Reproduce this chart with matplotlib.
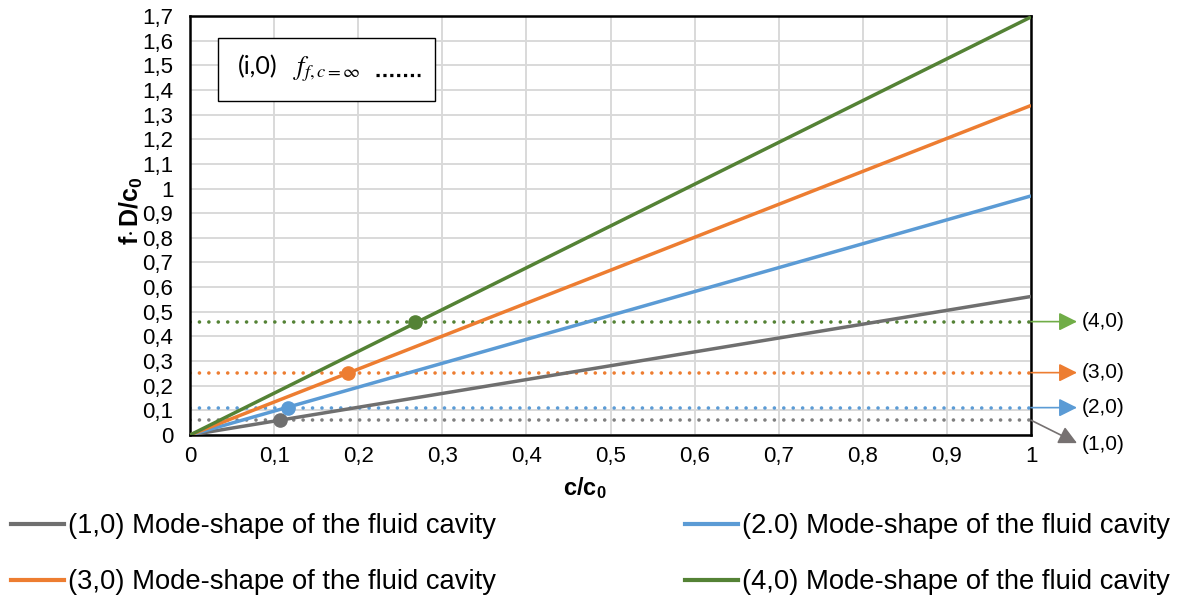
import matplotlib
matplotlib.use("Agg")
import matplotlib.pyplot as plt
from matplotlib.lines import Line2D
from matplotlib.patches import Rectangle
import numpy as np

plt.rcParams['font.family'] = ['Liberation Sans', 'DejaVu Sans']
plt.rcParams['mathtext.fontset'] = 'custom'
plt.rcParams['mathtext.rm'] = 'Liberation Sans'
plt.rcParams['mathtext.it'] = 'Liberation Sans:italic'
plt.rcParams['mathtext.bf'] = 'Liberation Sans:bold'

# Data
modes = ["(1,0)", "(2.0)", "(3,0)", "(4,0)"]
arrow_labels = ["(1,0)", "(2,0)", "(3,0)", "(4,0)"]
x_line = [0.0, 1.0]
y_end = [0.562, 0.970, 1.337, 1.696]          # f·D/c0 at c/c0 = 1
f_inf = [0.060, 0.111, 0.253, 0.460]          # (i,0) f_f,c=inf levels
x_cross = [0.107, 0.116, 0.188, 0.268]        # intersection points
colors = ["#6f6f6f", "#5b9bd5", "#ed7d31", "#548235"]
dot_colors = ["#7f7f7f", "#5b9bd5", "#ed7d31", "#548235"]
arrow_colors = ["#767171", "#5b9bd5", "#ed7d31", "#70ad47"]
xticks = np.round(np.arange(0, 1.01, 0.1), 1)
yticks = np.round(np.arange(0, 1.71, 0.1), 1)

fig = plt.figure(figsize=(11.84, 5.99), dpi=100)
ax = fig.add_axes([0.1605, 0.2738, 0.7103, 0.6995])

for i in range(4):
    ax.plot(x_line, [0, y_end[i]], color=colors[i], lw=2.5, zorder=3,
            solid_capstyle='butt')
    ax.plot([0, 1], [f_inf[i], f_inf[i]], color=dot_colors[i], lw=2.6,
            linestyle=(0, (0.01, 2.6)), dash_capstyle='round', zorder=2)
    ax.plot([x_cross[i]], [f_inf[i]], 'o', color=colors[i], ms=9.5, zorder=4)

ax.set_xlim(0, 1)
ax.set_ylim(0, 1.7)
ax.set_xticks(xticks)
ax.set_yticks(yticks)
fmt = lambda v: ("%g" % v).replace('.', ',')
ax.set_xticklabels([fmt(v) for v in xticks], fontsize=16)
ax.set_yticklabels([fmt(v) for v in yticks], fontsize=16)
ax.tick_params(axis='x', length=0, pad=8)
ax.tick_params(axis='y', length=0, pad=12)
ax.grid(True, color="#d9d9d9", lw=1.4, zorder=0)
ax.set_axisbelow(True)
for s in ax.spines.values():
    s.set_linewidth(1.8)
    s.set_color('black')

ax.set_xlabel(r'$\mathbf{c/c_0}$', fontsize=17)
ax.set_ylabel(r'$\mathbf{f{\cdot}\,D/c_0}$', fontsize=18)
ax.xaxis.set_label_coords(0.469, -0.095)
ax.yaxis.set_label_coords(-0.054, 0.535)

# Arrows to the right
for i in range(4):
    yend = f_inf[i] if i > 0 else f_inf[0] - 0.093
    ylab = f_inf[i] if i > 0 else f_inf[0] - 0.10
    ax.annotate('', xy=(1.0547, yend), xytext=(1.0, f_inf[i]),
                xycoords='data', textcoords='data', annotation_clip=False,
                arrowprops=dict(arrowstyle='-|>,head_length=1.0,head_width=0.5',
                                color=arrow_colors[i], lw=1.2,
                                shrinkA=0, shrinkB=0, mutation_scale=11))
    ax.text(1.0606, ylab, arrow_labels[i], fontsize=15, va='center', ha='left',
            transform=ax.transData, clip_on=False)

# Inset box
ax.add_patch(Rectangle((0.0333, 0.796), 0.258, 0.151, transform=ax.transAxes,
                       facecolor='white', edgecolor='black', lw=1.0, zorder=5))
ax.text(0.057, 0.878, "(i,0)", transform=ax.transAxes, fontsize=18,
        va='center', ha='left', family=['Lato', 'DejaVu Sans'], zorder=6)
ax.text(0.122, 0.872, r"$f_{f,c=\infty}$", transform=ax.transAxes, fontsize=19,
        va='center', ha='left', math_fontfamily='stix', zorder=6)
ax.plot([0.2215, 0.2735], [0.858, 0.858], transform=ax.transAxes, color='black',
        lw=2.3, linestyle=(0, (1, 1.15)), zorder=6)

# Legend
handles = [Line2D([], [], color=colors[i], lw=3) for i in range(4)]
order = [0, 2, 1, 3]
fig.legend([handles[k] for k in order],
           [modes[k] + " Mode-shape of the fluid cavity" for k in order],
           ncol=2, loc='lower left', bbox_to_anchor=(4 / 1184, -3 / 599),
           frameon=False, fontsize=19.7, handlelength=1.95, handletextpad=0.15,
           columnspacing=6.9, labelspacing=1.1, borderaxespad=0.12,
           borderpad=0.12)

fig.savefig("out.png", dpi=100)
